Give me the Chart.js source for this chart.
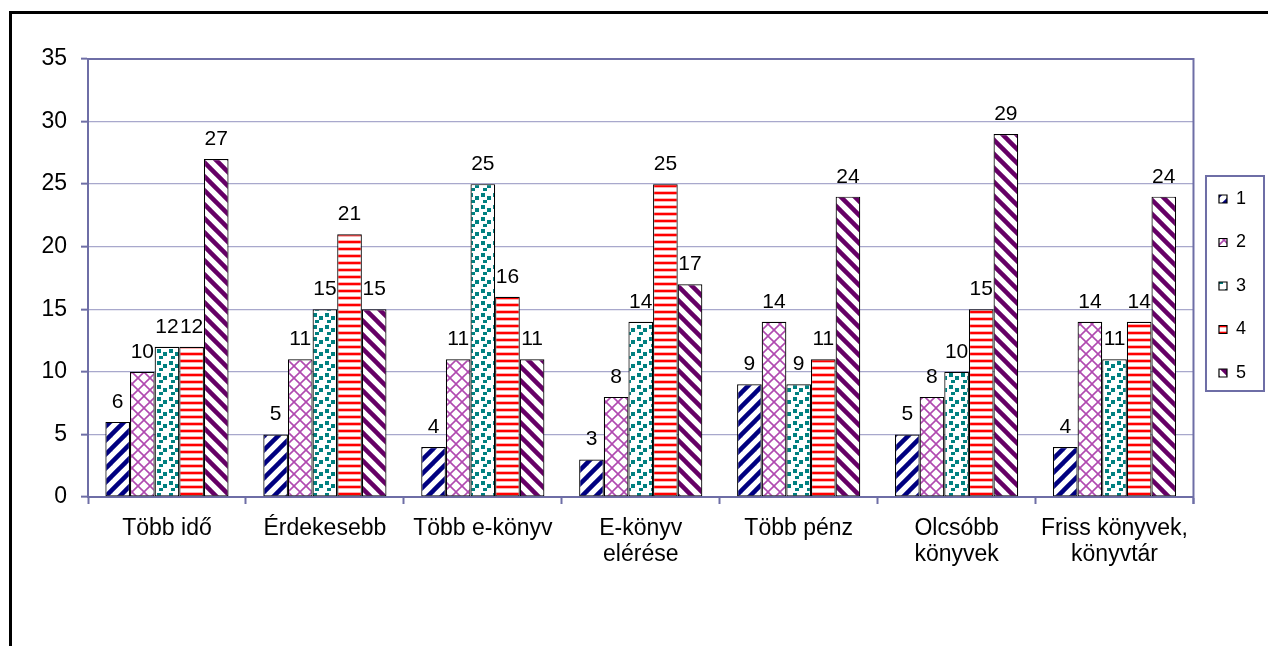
<!DOCTYPE html>
<html>
<head>
<meta charset="utf-8">
<script src="https://cdn.jsdelivr.net/npm/chart.js@4.4.1/dist/chart.umd.min.js"></script>
<style>
  html, body { margin: 0; padding: 0; background: #fff; }
  #wrap { width: 1268px; height: 646px; }
</style>
</head>
<body>
<div id="wrap"><canvas id="chart" width="1268" height="646"></canvas></div>
<script>
// categories (multi-line labels as arrays)
const categories = [
  ["Több idő"], ["Érdekesebb"], ["Több e-könyv"], ["E-könyv", "elérése"],
  ["Több pénz"], ["Olcsóbb", "könyvek"], ["Friss könyvek,", "könyvtár"]
];
const seriesNames = ["1", "2", "3", "4", "5"];
const series1 = [6, 5, 4, 3, 9, 5, 4];
const series2 = [10, 11, 11, 8, 14, 8, 14];
const series3 = [12, 15, 25, 14, 9, 10, 11];
const series4 = [12, 21, 16, 25, 11, 15, 14];
const series5 = [27, 15, 11, 17, 24, 29, 24];
const yMax = 35;
const yStep = 5;

const AXIS = "#6e6ea6";
const GRID = "#a8a8cc";
const FONT = "'Liberation Sans', Arial, sans-serif";

// fill patterns like the old office hatches
function tile(size, draw) {
  const c = document.createElement("canvas");
  c.width = size; c.height = size;
  const g = c.getContext("2d");
  g.fillStyle = "#fff";
  g.fillRect(0, 0, size, size);
  draw(g, size);
  return document.createElement("canvas").getContext("2d").createPattern(c, "repeat");
}
function diag(color, width, up) {
  return tile(14, (g, s) => {
    g.strokeStyle = color;
    g.lineWidth = width;
    for (let k = -1; k <= 1; k++) {
      g.beginPath();
      if (up) { g.moveTo(-s / 2 + k * s, s * 1.5); g.lineTo(s * 1.5 + k * s, -s / 2); }
      else { g.moveTo(-s / 2 + k * s, -s / 2); g.lineTo(s * 1.5 + k * s, s * 1.5); }
      g.stroke();
    }
  });
}
const pat1 = diag("#000080", 4.5, true);
const pat5 = diag("#660066", 4.5, false);
const pat2 = tile(12, (g, s) => {
  g.strokeStyle = "#b04ab0";
  g.lineWidth = 1.6;
  for (let k = -1; k <= 1; k++) {
    g.beginPath(); g.moveTo(k * s, s); g.lineTo(s + k * s, 0); g.stroke();
    g.beginPath(); g.moveTo(k * s, 0); g.lineTo(s + k * s, s); g.stroke();
  }
});
const pat3 = tile(12, (g) => {
  g.fillStyle = "#008080";
  g.fillRect(1, 1, 4, 4);
  g.fillRect(7, 4, 4, 4);
  g.fillRect(3, 8, 4, 3);
});
const pat4 = tile(7, (g) => {
  g.fillStyle = "#ffb0b0";
  g.fillRect(0, 2, 7, 4);
  g.fillStyle = "#ff0000";
  g.fillRect(0, 3, 7, 2);
});

const mk = (label, data, fill) => ({
  label, data,
  backgroundColor: fill,
  borderColor: "#000",
  borderWidth: 1.2,
  borderSkipped: false
});

const outerFrame = {
  id: "outerFrame",
  beforeDraw(chart) {
    const c = chart.ctx;
    c.save();
    c.strokeStyle = "#000";
    c.lineWidth = 3;
    c.strokeRect(10.5, 12.5, chart.width + 20, chart.height + 20);
    c.restore();
  }
};

const plotFrame = {
  id: "plotFrame",
  afterDraw(chart) {
    const a = chart.chartArea;
    const c = chart.ctx;
    c.save();
    c.strokeStyle = AXIS;
    c.lineWidth = 2;
    c.beginPath();
    c.moveTo(a.left, a.top); c.lineTo(a.right, a.top); c.lineTo(a.right, a.bottom + 7);
    c.stroke();
    // legend box
    const boxes = chart.legend.legendHitBoxes;
    if (boxes.length) {
      const l = Math.min(...boxes.map(b => b.left)) - 13;
      const r = Math.max(...boxes.map(b => b.left + b.width)) + 18;
      const t = Math.min(...boxes.map(b => b.top)) - 14;
      const bt = Math.max(...boxes.map(b => b.top + b.height)) + 9;
      c.strokeRect(l, t, r - l, bt - t);
    }
    c.restore();
  }
};

const valueLabels = {
  id: "valueLabels",
  afterDatasetsDraw(chart) {
    const c = chart.ctx;
    c.save();
    c.fillStyle = "#000";
    c.font = "21px " + FONT;
    c.textAlign = "center";
    c.textBaseline = "alphabetic";
    chart.data.datasets.forEach((ds, i) => {
      chart.getDatasetMeta(i).data.forEach((el, j) => {
        c.fillText(ds.data[j], el.x, el.y - 14);
      });
    });
    c.restore();
  }
};

new Chart(document.getElementById("chart"), {
  type: "bar",
  data: {
    labels: categories,
    datasets: [
      mk(seriesNames[0], series1, pat1),
      mk(seriesNames[1], series2, pat2),
      mk(seriesNames[2], series3, pat3),
      mk(seriesNames[3], series4, pat4),
      mk(seriesNames[4], series5, pat5)
    ]
  },
  options: {
    responsive: false,
    devicePixelRatio: 1,
    animation: false,
    layout: { padding: { top: 59, left: 0, right: 12, bottom: 49 } },
    categoryPercentage: 0.78,
    barPercentage: 1.0,
    plugins: {
      legend: {
        position: "right",
        fullSize: false,
        title: { display: true, text: " ", font: { size: 10, lineHeight: 1.2 }, padding: 2 },
        labels: {
          color: "#000",
          font: { family: FONT, size: 18 },
          boxWidth: 8,
          boxHeight: 8,
          padding: 25.5
        }
      },
      tooltip: { enabled: false }
    },
    scales: {
      x: {
        afterFit(scale) { scale.height = 100; },
        grid: { drawOnChartArea: false, tickLength: 7, tickColor: AXIS, tickWidth: 2 },
        border: { color: AXIS, width: 2 },
        ticks: { color: "#000", padding: 11, font: { family: FONT, size: 23, lineHeight: 1.15 }, maxRotation: 0, autoSkip: false }
      },
      y: {
        min: 0, max: yMax,
        afterFit(scale) { scale.width = 88; },
        grid: { color: GRID, lineWidth: 1.3, tickLength: 7, tickColor: AXIS, tickWidth: 2 },
        border: { color: AXIS, width: 2 },
        ticks: { stepSize: yStep, color: "#000", padding: 14, font: { family: FONT, size: 23 } }
      }
    }
  },
  plugins: [outerFrame, plotFrame, valueLabels]
});
</script>
</body>
</html>
